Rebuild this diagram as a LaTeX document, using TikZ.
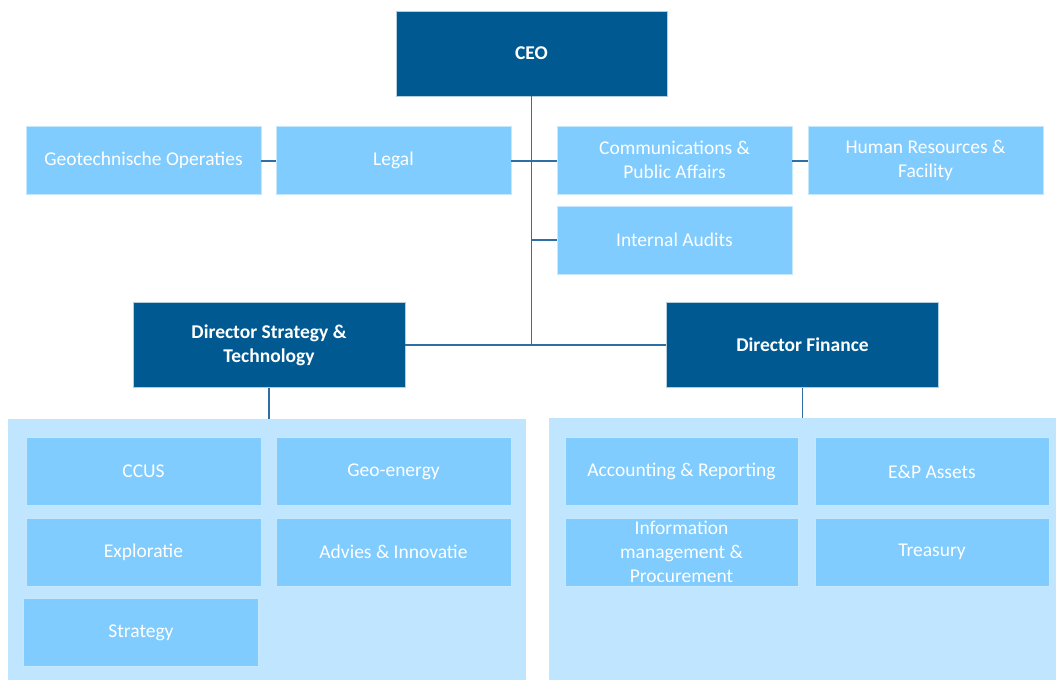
\documentclass[tikz,border=0pt]{standalone}
\usepackage{fontspec}
\setmainfont{Carlito}
\usetikzlibrary{positioning}
\definecolor{darkunit}{HTML}{005A91}
\definecolor{unitblue}{HTML}{80CCFF}
\definecolor{groupblue}{HTML}{BFE5FF}
\definecolor{linkblue}{HTML}{2F6FA3}
\tikzset{
  unit/.style={fill=unitblue, draw=white!55!unitblue, line width=0.8pt, text=white,
    minimum width=235pt, minimum height=68pt, align=center, inner sep=1pt,
    font=\fontsize{19.5}{24}\selectfont},
  lead/.style={fill=darkunit, draw=white!70!darkunit, line width=0.8pt, text=white,
    minimum width=272pt, minimum height=85pt, align=center, inner sep=1pt,
    font=\fontsize{19.5}{24}\selectfont\bfseries},
  group/.style={fill=groupblue, draw=none, anchor=north west, inner sep=0pt},
  link/.style={draw=linkblue, line width=1.3pt},
}
\begin{document}
\begin{tikzpicture}[x=1pt,y=-1pt]
  \useasboundingbox (0,0) rectangle (1056,680);
  % groups below the directors
  \node[group, minimum width=518pt, minimum height=261pt] (leftgroup) at (8,419) {};
  \node[group, minimum width=507pt, minimum height=262pt] (rightgroup) at (549,418) {};
  % top
  \node[lead, minimum width=271pt] (ceo) at (531.5,53.5) {CEO};
  \node[unit] (geo) at (143.5,160) {Geotechnische Operaties};
  \node[unit] (legal) at (393.5,160) {Legal};
  \node[unit] (comm) at (674.5,160) {Communications \&\\Public Affairs};
  \node[unit] (hr) at (925.5,160) {Human Resources \&\\Facility};
  \node[unit] (audit) at (674.5,240) {Internal Audits};
  % directors
  \node[lead] (dirst) at (269,345) {Director Strategy \&\\Technology};
  \node[lead] (dirfin) at (802.5,345) {Director Finance};
  % strategy & technology units
  \node[unit] (ccus) at (143.5,471.5) {CCUS};
  \node[unit] (geoen) at (393.5,471.5) {Geo-energy};
  \node[unit] (explo) at (143.5,552) {Exploratie};
  \node[unit] (advies) at (393.5,552) {Advies \& Innovatie};
  \node[unit] (strat) at (141,632.5) {Strategy};
  % finance units
  \node[unit, minimum width=233pt] (acc) at (681.5,471.5) {Accounting \& Reporting};
  \node[unit, minimum width=234pt] (ep) at (932,471.5) {E\&P Assets};
  \node[unit, minimum width=233pt] (info) at (681.5,552) {Information\\management \&\\Procurement};
  \node[unit, minimum width=234pt] (treas) at (932,552) {Treasury};
  % connectors
  \coordinate (trunk) at (ceo.south |- dirfin.west);
  \draw[link] (ceo.south) -- (trunk);
  \draw[link] (dirst.east) -- (dirfin.west);
  \draw[link] ([yshift=-1pt]legal.east) -- ([yshift=-1pt]comm.west);
  \draw[link] ([yshift=-1pt]geo.east) -- ([yshift=-1pt]legal.west);
  \draw[link] ([yshift=-1pt]comm.east) -- ([yshift=-1pt]hr.west);
  \draw[link] (ceo.south |- audit.west) -- (audit.west);
  \draw[link] (dirst.south) -- (dirst.south |- leftgroup.north);
  \draw[link] (dirfin.south) -- (dirfin.south |- rightgroup.north);
\end{tikzpicture}
\end{document}
